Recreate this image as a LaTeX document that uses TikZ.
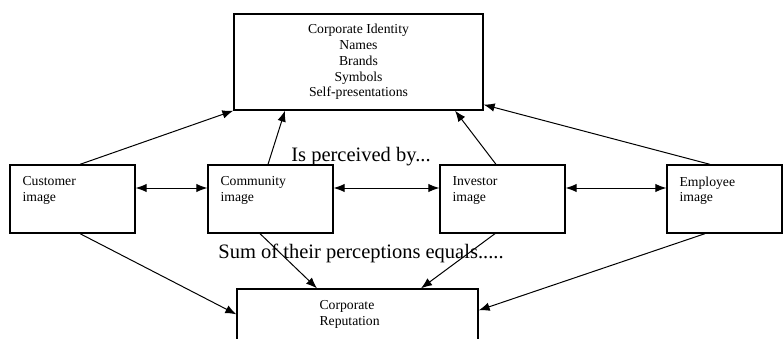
\documentclass[tikz,border=0pt]{standalone}
\usepackage{fontspec}
\setmainfont{Liberation Serif}
\usetikzlibrary{positioning,arrows.meta}

\begin{document}
\begin{tikzpicture}[x=1pt,y=-1pt,
    box/.style={draw, line width=1.3pt, rectangle, inner sep=0pt},
    imgbox/.style={box, minimum width=125pt, minimum height=68pt},
    smalltext/.style={inner sep=0pt, align=left, font=\fontsize{13.7}{15.8}\selectfont},
    bigtext/.style={inner sep=0pt, font=\fontsize{20.5}{24}\selectfont},
    link/.style={line width=1pt, -{Latex[length=11pt,width=8.5pt]}},
    both/.style={line width=1pt, {Latex[length=11pt,width=8.5pt]}-{Latex[length=11pt,width=8.5pt]}}]
       \clip (0,0) rectangle (783,339);

       \node(CI)[box, minimum width=249pt, minimum height=96pt, align=center,
                 font=\fontsize{13.7}{15.8}\selectfont] at (358.5,62)
            {Corporate Identity\\Names\\Brands\\Symbols\\Self-presentations};

       \node(CU)[imgbox] at (72.5,199) {};
       \node(NCU)[smalltext, below right = 12pt and 13pt] at (CU.north west) {Customer\\image};

       \node(CO)[imgbox] at (270.5,199) {};
       \node(NCO)[smalltext, below right = 12pt and 13pt] at (CO.north west) {Community\\image};

       \node(IN)[imgbox] at (502.5,199) {};
       \node(NIN)[smalltext, below right = 12pt and 13pt] at (IN.north west) {Investor\\image};

       \node(EM)[imgbox, minimum width=115pt] at (724.5,199) {};
       \node(NEM)[smalltext, below right = 12pt and 13pt] at (EM.north west) {Employee\\image};

       \node(CR)[box, minimum width=241pt, minimum height=80pt] at (357.5,329) {};
       \node(NCR)[smalltext, below right = 12pt and 83pt] at (CR.north west) {Corporate\\Reputation};

       \node(NP)[bigtext] at (361,157) {Is perceived by...};
       \node(NS)[bigtext] at (361,253) {Sum of their perceptions equals.....};

       \draw[link] ([xshift=7.5pt]CU.north) -- (CI.south west);
       \draw[link] ([xshift=-2.5pt]CO.north) -- ([xshift=-73.5pt]CI.south);
       \draw[link] ([xshift=-6.5pt]IN.north) -- ([xshift=96.5pt]CI.south);
       \draw[link] ([xshift=-14.5pt]EM.north) -- ([yshift=6pt]CI.south east);

       \draw[both] ([yshift=11pt]CU.east) -- ([yshift=11pt]CO.west);
       \draw[both] ([yshift=11pt]CO.east) -- ([yshift=11pt]IN.west);
       \draw[both] ([yshift=11pt]IN.east) -- ([yshift=11pt]EM.west);

       \draw[link] ([xshift=7.5pt]CU.south) -- ([yshift=-26pt]CR.north west);
       \draw[link] ([xshift=-10.5pt]CO.south) -- ([xshift=-40.5pt]CR.north);
       \draw[link] ([xshift=-7.5pt]IN.south) -- ([xshift=63.5pt]CR.north);
       \draw[link] ([xshift=-19.5pt]EM.south) -- ([yshift=-22pt]CR.north east);

      \end{tikzpicture}
\end{document}
